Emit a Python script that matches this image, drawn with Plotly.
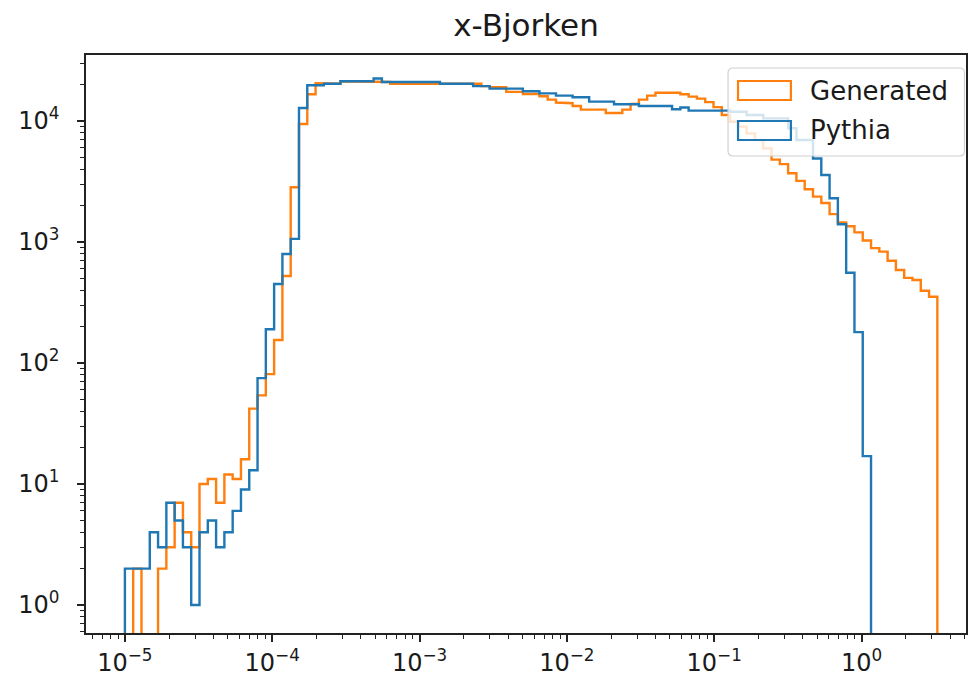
import numpy as np
import plotly.graph_objects as go

# ---------------- data ----------------
title_text = "x-Bjorken"
series_names = ["Generated", "Pythia"]
series_colors = ["#ff7f0e", "#1f77b4"]

x_min = 1e-5
x_max = 3.27
n_bins = 98

generated_counts = [
    0, 2, 0, 0, 2, 3, 7, 4, 3, 10,
    11, 7, 12, 11, 16, 42, 54, 81, 155, 524,
    2830, 9440, 16600, 20500, 20300, 20300, 21300, 21300, 21300, 21300,
    21300, 21000, 20300, 20300, 20300, 20300, 20300, 20300, 20300, 20300,
    20300, 20300, 20300, 19400, 19000, 19000, 17400, 17400, 16700, 16700,
    16000, 15000, 14200, 14000, 13300, 12400, 12400, 12400, 11650, 11650,
    12400, 13800, 15000, 16200, 17100, 17100, 17100, 16600, 15900, 15300,
    14300, 13000, 11200, 9860, 8970, 7900, 6970, 5940, 4790, 4400,
    3700, 3200, 2730, 2370, 2100, 1700, 1450, 1350, 1200, 1030,
    890, 832, 700, 587, 505, 485, 395, 353,
]

pythia_counts = [
    2, 2, 2, 4, 3, 7, 5, 3, 1, 4,
    5, 3, 4, 6, 9, 13, 75, 190, 450, 795,
    1060, 12800, 19700, 19700, 20300, 20300, 21300, 21300, 21300, 21300,
    22400, 21000, 21000, 21000, 21000, 21000, 21000, 21000, 20300, 20300,
    20300, 20300, 19400, 19400, 18500, 18500, 18500, 18500, 17600, 17600,
    16900, 16900, 16200, 16200, 15700, 15700, 14450, 14450, 14450, 13740,
    13740, 13740, 13300, 13300, 13300, 13300, 12500, 12900, 12170, 12170,
    12170, 12170, 12170, 11900, 11900, 11200, 11200, 10500, 10500, 10500,
    8700, 6970, 6970, 4900, 3580, 2300, 1400, 557, 180, 17,
    0, 0, 0, 0, 0, 0, 0, 0,
]

x_tick_vals = [1e-5, 1e-4, 1e-3, 1e-2, 1e-1, 1e0]
x_tick_text = ["10<sup>−5</sup>", "10<sup>−4</sup>", "10<sup>−3</sup>",
               "10<sup>−2</sup>", "10<sup>−1</sup>", "10<sup>0</sup>"]
y_tick_vals = [1e0, 1e1, 1e2, 1e3, 1e4]
y_tick_text = ["10<sup>0</sup>", "10<sup>1</sup>", "10<sup>2</sup>",
               "10<sup>3</sup>", "10<sup>4</sup>"]

# ---------------- layout constants ----------------
W, H = 969, 684
PL, PR, PT, PB = 86, 968, 55, 633
x_range = [-5.264, 0.709]
y_range = [-0.231, 4.545]
FONT = "DejaVu Sans"
TEXT_COLOR = "#1a1a1a"
FLOOR = 1e-3  # below the visible range: zero bins drop to the axis


def px(xp):
    return (xp - PL) / (PR - PL)


def py(yp):
    return (PB - yp) / (PB - PT)


edges = np.logspace(np.log10(x_min), np.log10(x_max), n_bins + 1)


def step_xy(counts):
    c = np.asarray(counts, dtype=float)
    c = np.where(c > 0, c, FLOOR)
    xs = np.repeat(edges, 2)
    ys = np.concatenate([[FLOOR], np.repeat(c, 2), [FLOOR]])
    return xs, ys


fig = go.Figure()
for name, counts, color in zip(series_names, [generated_counts, pythia_counts], series_colors):
    xs, ys = step_xy(counts)
    fig.add_trace(go.Scatter(x=xs, y=ys, mode="lines", name=name,
                             line=dict(color=color, width=2.4),
                             showlegend=False, hoverinfo="skip"))


def minor_vals(lo, hi):
    out = []
    for d in range(lo, hi + 1):
        for k in range(2, 10):
            out.append(k * 10.0 ** d)
    return out


axis_common = dict(
    type="log", showgrid=False, zeroline=False,
    showline=True, linecolor="#222222", linewidth=1.6, mirror=True,
    ticks="outside", ticklen=7, tickwidth=1.5, tickcolor="#222222",
    tickfont=dict(family=FONT, size=24, color=TEXT_COLOR),
)

fig.update_xaxes(**axis_common, range=x_range, tickvals=x_tick_vals, ticktext=x_tick_text,
                 minor=dict(tickvals=minor_vals(-6, 0), ticks="outside", ticklen=4,
                            tickwidth=1.2, tickcolor="#222222"))
fig.update_yaxes(**axis_common, range=y_range, tickvals=y_tick_vals, ticktext=y_tick_text,
                 ticklabelstandoff=13,
                 minor=dict(tickvals=minor_vals(-1, 4), ticks="outside", ticklen=4,
                            tickwidth=1.2, tickcolor="#222222"))

# ---------------- manual legend (outlined patches like matplotlib step hist) ----------------
shapes = []
bx0, bx1, by0, by1, r = 729.5, 966.5, 68.0, 156.0, 5.0


def P(xp, yp):
    return f"{px(xp):.5f},{py(yp):.5f}"


path = (f"M {P(bx0 + r, by0)} L {P(bx1 - r, by0)} Q {P(bx1, by0)} {P(bx1, by0 + r)} "
        f"L {P(bx1, by1 - r)} Q {P(bx1, by1)} {P(bx1 - r, by1)} "
        f"L {P(bx0 + r, by1)} Q {P(bx0, by1)} {P(bx0, by1 - r)} "
        f"L {P(bx0, by0 + r)} Q {P(bx0, by0)} {P(bx0 + r, by0)} Z")
shapes.append(dict(type="path", path=path, xref="paper", yref="paper", layer="above",
                   fillcolor="rgba(255,255,255,0.8)", line=dict(color="#d0d0d0", width=1.2)))

entry_y = [90.5, 130.5]
for name, color, yc in zip(series_names, series_colors, entry_y):
    shapes.append(dict(type="rect", xref="paper", yref="paper", layer="above",
                       x0=px(739.5), x1=px(792.5), y0=py(yc - 9.5), y1=py(yc + 9.5),
                       line=dict(color=color, width=2.2), fillcolor="rgba(0,0,0,0)"))

annotations = []
for name, yc in zip(series_names, entry_y):
    annotations.append(dict(text=name, xref="paper", yref="paper", x=px(810), y=py(yc),
                            xanchor="left", yanchor="middle", showarrow=False,
                            font=dict(family=FONT, size=26, color=TEXT_COLOR)))

fig.update_layout(
    width=W, height=H,
    margin=dict(l=PL, r=W - PR, t=PT, b=H - PB, pad=0),
    paper_bgcolor="white", plot_bgcolor="white",
    font=dict(family=FONT, color=TEXT_COLOR),
    title=dict(text=title_text, x=0.5, xref="paper", xanchor="center",
               y=1 - 25 / H, yref="container", yanchor="middle",
               font=dict(family=FONT, size=31, color=TEXT_COLOR)),
    shapes=shapes, annotations=annotations,
    showlegend=False,
)

fig.write_html("out.html")
